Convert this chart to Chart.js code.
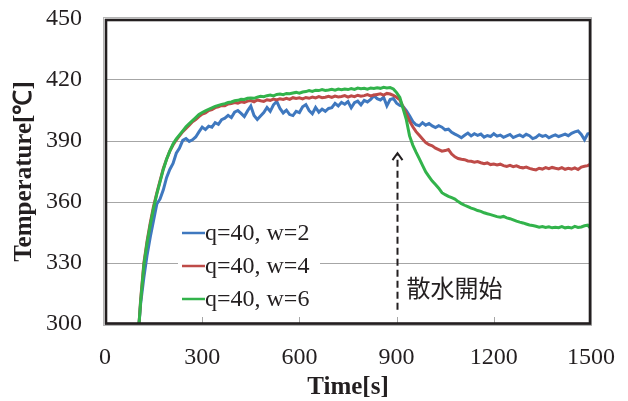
<!DOCTYPE html>
<html>
<head>
<meta charset="utf-8">
<script src="https://cdn.jsdelivr.net/npm/chart.js@4/dist/chart.umd.min.js"></script>
<style>
  html, body { margin: 0; padding: 0; background: #fff; }
  #wrap { width: 628px; height: 401px; position: relative; }
</style>
</head>
<body>
<div id="wrap"><canvas id="chart"></canvas></div>
<script>
// time axis (s)
const times = [
  105, 110, 120, 130, 140, 150, 160, 170, 180, 190,
  200, 210, 220, 230, 240, 250, 260, 270, 280, 290,
  300, 310, 320, 330, 340, 350, 360, 370, 380, 390,
  400, 410, 420, 430, 440, 450, 460, 470, 480, 490,
  500, 510, 520, 530, 540, 550, 560, 570, 580, 590,
  600, 610, 620, 630, 640, 650, 660, 670, 680, 690,
  700, 710, 720, 730, 740, 750, 760, 770, 780, 790,
  800, 810, 820, 830, 840, 850, 860, 870, 880, 890,
  900, 910, 920, 930, 940, 950, 960, 970, 980, 990,
  1000, 1010, 1020, 1030, 1040, 1050, 1060, 1070, 1080, 1090,
  1100, 1110, 1120, 1130, 1140, 1150, 1160, 1170, 1180, 1190,
  1200, 1210, 1220, 1230, 1240, 1250, 1260, 1270, 1280, 1290,
  1300, 1310, 1320, 1330, 1340, 1350, 1360, 1370, 1380, 1390,
  1400, 1410, 1420, 1430, 1440, 1450, 1460, 1470, 1480, 1490,
  1500,
];

// q=40, w=2
const tempW2 = [
  300, 310, 323, 334, 343, 351, 359, 361.5, 366, 372,
  376, 379, 384, 386.5, 390.3, 391.2, 389.8, 390.6, 392, 394.5,
  396.8, 395.6, 397.3, 396.8, 399, 398.2, 400.5, 401.2, 402.6, 401.5,
  404.2, 405, 403.6, 402, 404.8, 407.2, 402.5, 400.6, 402.3, 404,
  406.5, 404.6, 407.8, 409.5, 406, 403.8, 405.2, 403, 402.5, 404.6,
  404, 406.8, 407.9, 405, 403.4, 406.5, 404.2, 405.7, 404.6, 406,
  406.4, 408.5, 407.2, 409, 408.1, 409.4, 406.3, 408.8, 409.6, 407.8,
  410, 409.2, 410.5, 412.3, 410.8, 410.2, 411.5, 407.3, 410.4, 410.9,
  408.6, 407.5, 407, 405, 402.4, 399.6, 398, 397.5, 399, 397.8,
  398.6, 397.4, 396.6, 397.5, 396.8, 395.5, 395.8, 394.3, 393.4, 392.6,
  391.6, 392.8, 393.9, 392.5, 393.6, 392.8, 393.4, 391.9, 392.7, 392.2,
  393.6, 392.4, 392.9, 391.8, 392.5, 393.2, 391.7, 392.4, 393, 392.1,
  393.3, 392.6, 391.2, 391.8, 393.1, 392.3, 392.8, 391.6, 392.4, 393,
  392.2, 392.8, 393.4, 392.6, 393.8, 394.5, 394.9, 393.2, 390.6, 393.5,
  393.8,
];

// q=40, w=4
const tempW4 = [
  300, 312, 330, 341, 350, 358, 364.5, 370.5, 376.5, 381,
  385, 388, 390.5, 392.5, 394.6, 396.2, 397.8, 399.5, 400.6, 402,
  403.2, 403.8, 405, 405.4, 406.4, 406.8, 407.5, 407.3, 408.2, 408.4,
  408.9, 408.6, 409.3, 409, 409.6, 409.9, 409.3, 410.2, 409.8, 409.5,
  410.3, 410, 410.6, 410.2, 410.8, 410.4, 411, 410.5, 411.3, 410.9,
  411.2, 410.7, 411.4, 411, 411.6, 411.2, 411.8, 411.3, 411.5, 412,
  411.4, 412.1, 411.7, 411.9, 412.3, 411.6, 412.2, 411.8, 412.5, 412,
  412.3, 412.8, 412.2, 412.6, 412.9, 413.2, 412.6, 413.4, 413.1, 412.4,
  411.5, 410.2, 406.8, 403.5, 399.8, 397, 394.6, 392.8, 391, 389.2,
  388.2, 387.6, 386.5, 385.8, 385, 385.3, 385.8, 383.6, 382.2, 381.4,
  381, 380.8, 380.2, 380, 379.6, 379.9, 379.3, 378.8, 379.2, 378.4,
  378.7, 378.2, 378.6, 377.9, 377.5, 378, 377.4, 377.8, 377.1, 376.8,
  377.2, 376.5, 376.1, 375.8, 376.6, 376.2, 376.9, 376.4, 377, 376.6,
  376.3, 376.9, 376.1, 376.6, 376.2, 376.8, 376, 377.2, 377.6, 377.9,
  378.8,
];

// q=40, w=6
const tempW6 = [
  300, 311, 329, 340, 349, 357, 364, 370, 376, 381,
  385, 388.5, 391, 393, 395, 397, 398.5, 400, 401.5, 403,
  404, 404.8, 405.6, 406.3, 407, 407.5, 408, 408.4, 408.9, 409.2,
  409.8, 410, 410.5, 410.4, 411, 411.2, 411, 411.6, 412, 411.8,
  412.3, 412.6, 412.2, 412.9, 413.1, 412.8, 413.4, 413.2, 413.6, 413.9,
  413.5, 414.1, 414.3, 414.8, 414.4, 415, 414.8, 415.3, 414.9, 415.1,
  415.4, 415, 415.5, 415.2, 415.6, 415.3, 415.8, 415.4, 416, 415.7,
  415.9, 415.5, 416.1, 415.8, 416.2, 415.9, 416.4, 416.1, 416.3, 415.6,
  413.8, 411.5, 406, 400.5, 392.5, 388, 384.5, 381.3, 378, 374.8,
  372.5, 370.3, 368.6, 366.8, 364.6, 363.6, 362.8, 362.1, 361.4, 360.2,
  359.2, 358.4, 357.7, 357, 356.5, 355.8, 355.4, 354.7, 354.2, 353.8,
  353.3, 352.8, 352.5, 352.9, 352.2, 351.8, 351.2, 350.6, 350.1, 349.7,
  349.2, 348.7, 348.4, 348.1, 347.6, 347.9, 347.5, 347.8, 347.3, 347.6,
  347.4, 347.9, 347.3, 347.6, 347.2, 348, 347.5, 347.7, 348.3, 348.6,
  346.8,
];

const seriesLabels = ["q=40, w=2", "q=40, w=4", "q=40, w=6"];
const seriesColors = ["#3f78bf", "#be4b48", "#32b34b"];
const seriesData = [tempW2, tempW4, tempW6];

const noteText = "散水開始";
const noteTime = 900;

const SERIF = "'Liberation Serif', 'Times New Roman', serif";
const INK = "#231f20";

const overlay = {
  id: "overlay",
  afterDatasetsDraw(chart) {
    const { ctx, chartArea: ca, scales: { x, y } } = chart;
    ctx.save();

    // inner tick marks on the time axis
    ctx.strokeStyle = "#a6a6a6";
    ctx.lineWidth = 1;
    x.ticks.forEach((t) => {
      const px = Math.round(x.getPixelForValue(t.value)) + 0.5;
      ctx.beginPath();
      ctx.moveTo(px, ca.bottom);
      ctx.lineTo(px, ca.bottom - 7);
      ctx.stroke();
    });

    // legend box
    const lx = ca.left + 73, ly = ca.top + 197;
    ctx.fillStyle = "#fff";
    ctx.fillRect(lx, ly, 142, 101);
    ctx.font = "24px " + SERIF;
    ctx.textBaseline = "middle";
    ctx.textAlign = "left";
    chart.data.datasets.forEach((ds, i) => {
      const cy = ca.top + 214 + i * 33;
      ctx.strokeStyle = ds.borderColor;
      ctx.lineWidth = 2.5;
      ctx.beginPath();
      ctx.moveTo(lx + 4, cy);
      ctx.lineTo(lx + 27, cy);
      ctx.stroke();
      ctx.fillStyle = INK;
      ctx.fillText(ds.label, lx + 27, cy + 1);
    });

    // sprinkling start marker
    const ax = Math.round(x.getPixelForValue(noteTime)) + 0.5;
    const tipY = y.getPixelForValue(384);
    const baseY = y.getPixelForValue(307);
    ctx.strokeStyle = INK;
    ctx.lineWidth = 2;
    ctx.setLineDash([7, 4]);
    ctx.beginPath();
    ctx.moveTo(ax, baseY);
    ctx.lineTo(ax, tipY + 2);
    ctx.stroke();
    ctx.setLineDash([]);
    ctx.beginPath();
    ctx.moveTo(ax - 5, tipY + 7);
    ctx.lineTo(ax, tipY);
    ctx.lineTo(ax + 5, tipY + 7);
    ctx.stroke();
    ctx.fillStyle = INK;
    ctx.font = "24px 'Noto Sans CJK JP', sans-serif";
    ctx.textBaseline = "middle";
    ctx.fillText(noteText, ax + 9, y.getPixelForValue(318));

    // plot frame
    ctx.strokeStyle = "#b4b4b4";
    ctx.lineWidth = 1;
    ctx.strokeRect(ca.left - 1.5, ca.top - 1.5, ca.width + 2, ca.height + 3);
    ctx.strokeStyle = INK;
    ctx.lineWidth = 2.6;
    ctx.strokeRect(ca.left + 1, ca.top + 1, ca.width - 2, ca.height - 1.5);

    ctx.restore();
  },
};

new Chart(document.getElementById("chart"), {
  type: "line",
  data: {
    datasets: seriesData.map((vals, i) => ({
      label: seriesLabels[i],
      data: times.map((t, k) => ({ x: t, y: vals[k] })),
      borderColor: seriesColors[i],
      borderWidth: 3,
      pointRadius: 0,
      tension: 0,
      fill: false,
      order: 2 - i,
    })),
  },
  options: {
    responsive: true,
    maintainAspectRatio: false,
    animation: false,
    layout: { padding: { top: 19, right: 37, left: 0, bottom: 0 } },
    scales: {
      x: {
        type: "linear",
        min: 0,
        max: 1500,
        border: { display: false },
        grid: { display: true, drawOnChartArea: false, drawTicks: true, tickLength: 16, tickColor: "rgba(0,0,0,0)" },
        ticks: {
          stepSize: 300,
          padding: 3,
          color: INK,
          font: { family: SERIF, size: 24 },
          maxRotation: 0,
          callback: (v) => String(v),
        },
        title: {
          display: true,
          text: "Time[s]",
          color: INK,
          font: { family: SERIF, size: 25, weight: "bold" },
          padding: { top: 0, bottom: -2 },
        },
        afterFit(scale) { scale.height = 77; },
      },
      y: {
        min: 300,
        max: 450,
        border: { display: false },
        grid: { color: "#a6a6a6", lineWidth: 1, drawTicks: true, tickLength: 20, tickColor: "rgba(0,0,0,0)" },
        ticks: {
          stepSize: 30,
          padding: 3,
          color: INK,
          font: { family: SERIF, size: 24 },
        },
        title: {
          display: true,
          text: "Temperature[℃]",
          color: INK,
          font: { family: SERIF, size: 25, weight: "bold" },
          padding: { top: 10, bottom: 0 },
        },
        afterFit(scale) { scale.width = 105; },
      },
    },
    plugins: {
      legend: { display: false },
      tooltip: { enabled: false },
    },
  },
  plugins: [overlay],
});
</script>
</body>
</html>
